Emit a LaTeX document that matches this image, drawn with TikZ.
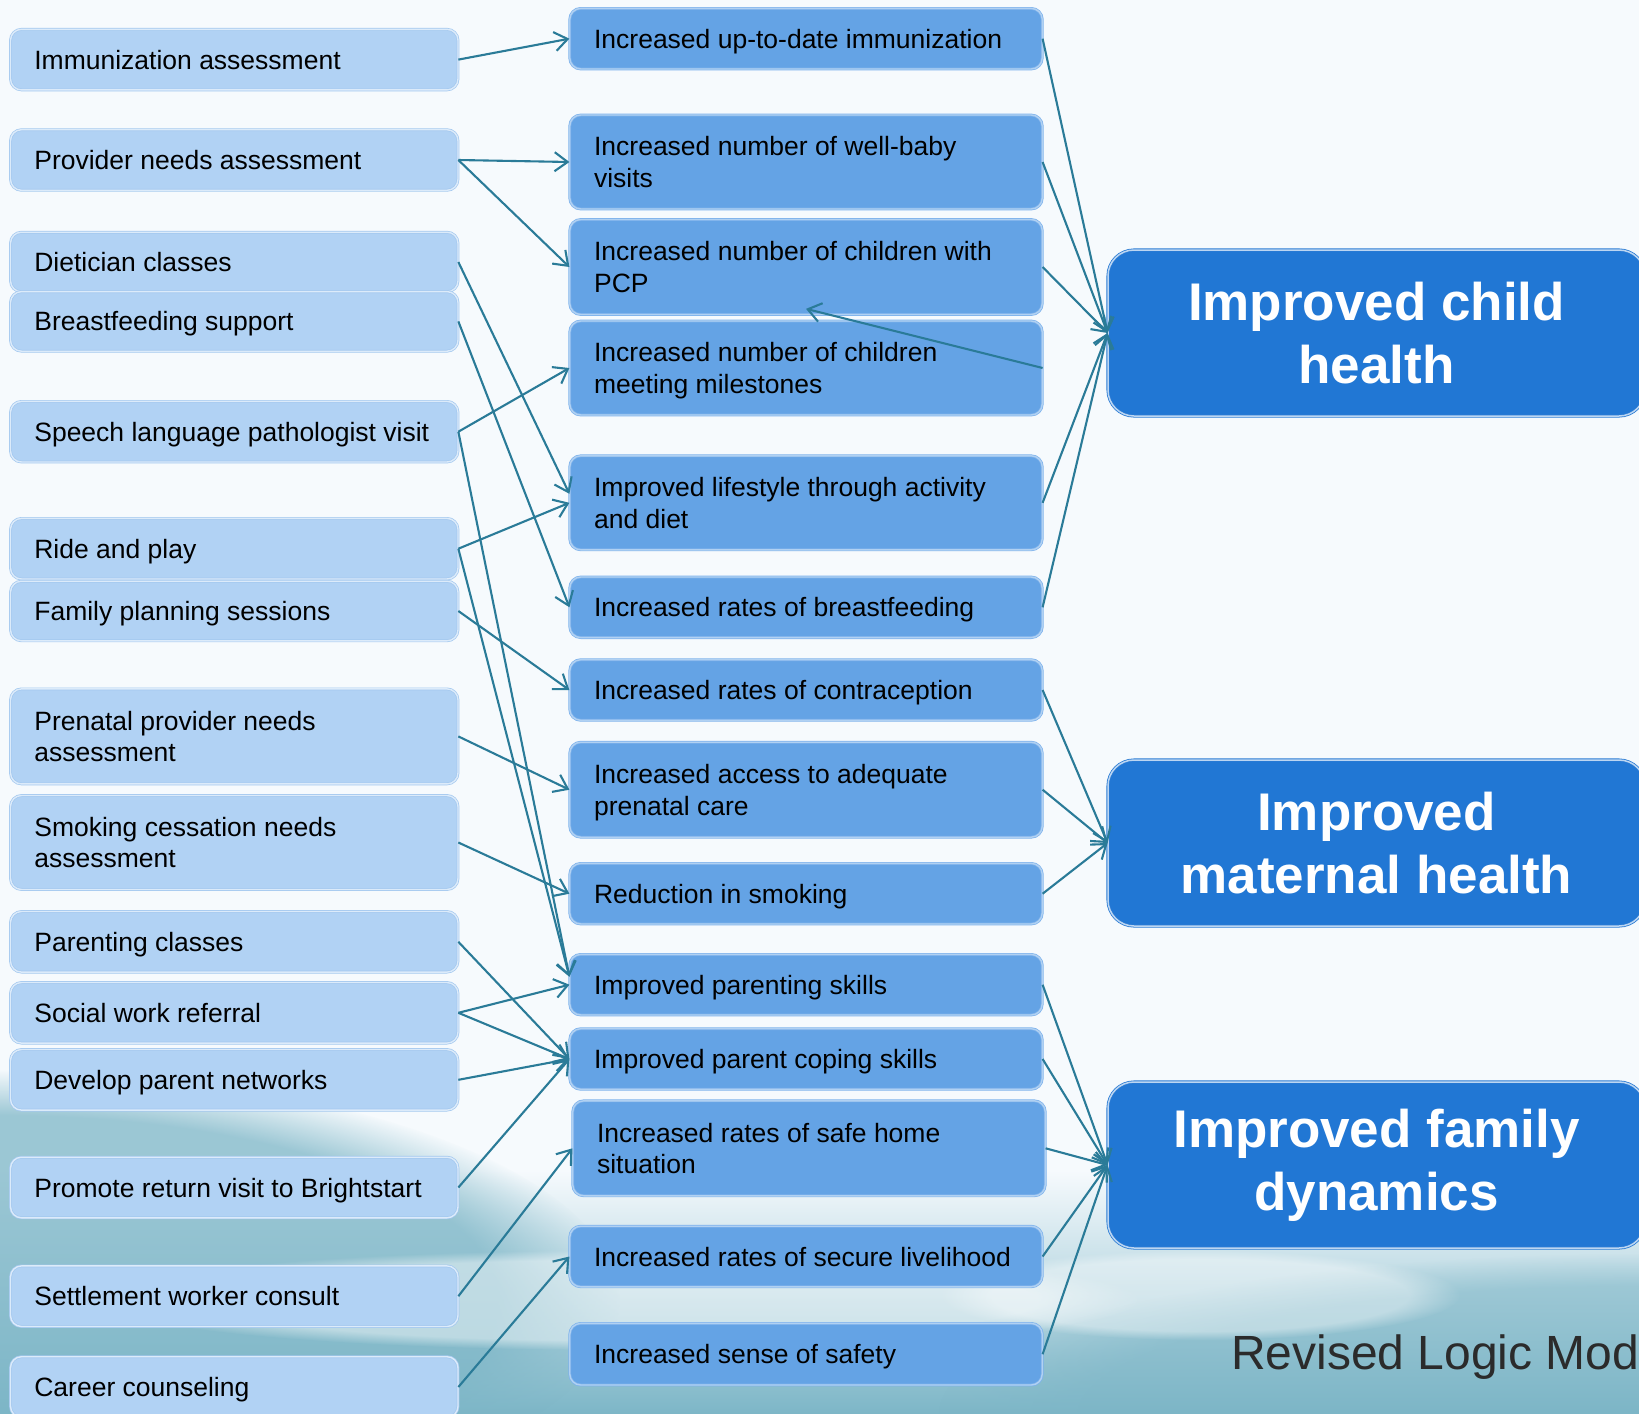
\documentclass[tikz,border=0pt]{standalone}
\usepackage{fontspec}
\setmainfont{Liberation Sans}
\usetikzlibrary{arrows.meta,calc,fadings}
\definecolor{bgtop}{HTML}{F6FAFD}
\definecolor{bgteal}{HTML}{7DB6C7}
\definecolor{lfill}{HTML}{B1D2F4}
\definecolor{lborder}{HTML}{A3C8EF}
\definecolor{mfill}{HTML}{64A3E5}
\definecolor{mborder}{HTML}{7DB2EC}
\definecolor{rfill}{HTML}{2177D4}
\definecolor{rborder}{HTML}{2A7BD4}
\definecolor{arrc}{HTML}{2A7B98}
\definecolor{titlec}{HTML}{2B2B2B}
\newcommand\lbx[4]{%
  \node[lbox, minimum height=#3] (#1) at (234.25,#2) {};
  \node[txt] (#1t) at ([xshift=24pt,yshift=-2.7pt]#1.west) {\rule{0pt}{19.3pt}#4\rule[-5.6pt]{0pt}{0pt}};}
\newcommand\mbx[5]{%
  \node[mbox, minimum height=#4] (#1) at (#2,#3) {};
  \node[txt] (#1t) at ([xshift=24.5pt,yshift=-2.7pt]#1.west) {\rule{0pt}{19.3pt}#5\rule[-5.6pt]{0pt}{0pt}};}
\begin{document}
\begin{tikzpicture}[x=1pt,y=-1pt,
  lbox/.style={draw=lborder, line width=0.7pt, double=white!55!lfill, double distance=1.4pt,
    fill=lfill, rounded corners=11pt, minimum width=447.5pt, inner sep=0pt},
  mbox/.style={draw=mborder, line width=0.7pt, double=white!50!mfill, double distance=1.4pt,
    fill=mfill, rounded corners=11pt, minimum width=472.5pt, inner sep=0pt},
  rbox/.style={draw=rborder, line width=0.8pt, double=white!70!rfill, double distance=1.5pt,
    fill=rfill, rounded corners=26pt, minimum width=537pt, minimum height=166pt, inner sep=0pt,
    text=white, align=center, font=\fontsize{53}{63}\selectfont\bfseries},
  txt/.style={anchor=west, inner sep=0pt, align=left, text=black,
    font=\fontsize{26.5}{31.5}\selectfont},
  arr/.style={draw=arrc, line width=2.1pt, -{Straight Barb[length=13pt,width=19pt]}},
  blob/.style={path fading=circle with fuzzy edge 20 percent}]
\useasboundingbox (0,0) rectangle (1639,1414);
\clip (0,0) rectangle (1639,1414);
% background
\fill[bgtop] (0,0) rectangle (1639,1414);
\shade[top color=bgtop, bottom color=bgteal] (0,1170) rectangle (1639,1414);
\fill[bgteal, opacity=0.75, blob] (0,1300) ellipse [x radius=620, y radius=230];
\fill[bgteal, opacity=0.5, blob] (1639,1414) ellipse [x radius=700, y radius=160];
\fill[white, opacity=0.45, blob] (620,1300) ellipse [x radius=520, y radius=50];
\fill[white, opacity=0.4, blob] (1200,1295) ellipse [x radius=260, y radius=45];
% left column
\lbx{L1}{59.6}{60.6}{Immunization assessment}
\lbx{L2}{160}{60.6}{Provider needs assessment}
\lbx{L3}{262}{59.6}{Dietician classes}
\lbx{L4}{321.4}{59.6}{Breastfeeding support}
\lbx{L5}{431.7}{60.6}{Speech language pathologist visit}
\lbx{L6}{548.7}{60.6}{Ride and play}
\lbx{L7}{611}{59.6}{Family planning sessions}
\lbx{L8}{736.4}{95}{Prenatal provider needs\\assessment}
\lbx{L9}{842.5}{94}{Smoking cessation needs\\assessment}
\lbx{L10}{941.8}{60.6}{Parenting classes}
\lbx{L11}{1012.8}{60.6}{Social work referral}
\lbx{L12}{1079.8}{60.6}{Develop parent networks}
\lbx{L13}{1187.5}{60.6}{Promote return visit to Brightstart}
\lbx{L14}{1296.2}{60.6}{Settlement worker consult}
\lbx{L15}{1387}{60.6}{Career counseling}
% middle column
\mbx{a}{806}{38.7}{60.6}{Increased up-to-date immunization}
\mbx{b}{806}{162}{94}{Increased number of well-baby\\visits}
\mbx{c}{806}{267}{95}{Increased number of children with\\PCP}
\mbx{d}{806}{368}{94}{Increased number of children\\meeting milestones}
\mbx{e}{806}{502.8}{94}{Improved lifestyle through activity\\and diet}
\mbx{f}{806}{607.3}{60.6}{Increased rates of breastfeeding}
\mbx{g}{806}{690}{60.6}{Increased rates of contraception}
\mbx{h}{806}{789.7}{95}{Increased access to adequate\\prenatal care}
\mbx{i}{806}{893.7}{60.6}{Reduction in smoking}
\mbx{j}{806}{984.7}{60.6}{Improved parenting skills}
\mbx{k}{806}{1059}{60.6}{Improved parent coping skills}
\mbx{l}{809}{1148.3}{95}{Increased rates of safe home\\situation}
\mbx{m}{806}{1256.5}{60.6}{Increased rates of secure livelihood}
\mbx{n}{806}{1354.2}{61.6}{Increased sense of safety}
% right column
\node[rbox] (A) at (1376.5,333) {Improved child\\health};
\node[rbox] (B) at (1376.5,843) {Improved\\maternal health};
\node[rbox] (C) at (1376.5,1165) {Improved family\\dynamics};
% title
\node[anchor=base west, inner sep=0pt, text=titlec, font=\fontsize{48}{58}\selectfont] (T) at (1231,1369) {Revised Logic Mod};
% left -> middle
\draw[arr] (L1.east) -- (a.west);
\draw[arr] (L2.east) -- (b.west);
\draw[arr] (L2.east) -- (c.west);
\draw[arr] (L3.east) -- ([yshift=9pt]e.west);
\draw[arr] (L4.east) -- (f.west);
\draw[arr] (L5.east) -- (d.west);
\draw[arr] (L5.east) -- ([yshift=8pt]j.west);
\draw[arr] (L6.east) -- (e.west);
\draw[arr] (L6.east) -- ([yshift=8pt]j.west);
\draw[arr] (L7.east) -- (g.west);
\draw[arr] (L8.east) -- (h.west);
\draw[arr] (L9.east) -- (i.west);
\draw[arr] (L10.east) -- (k.west);
\draw[arr] (L11.east) -- (j.west);
\draw[arr] (L11.east) -- (k.west);
\draw[arr] (L12.east) -- (k.west);
\draw[arr] (L13.east) -- (k.west);
\draw[arr] (L14.east) -- (l.west);
\draw[arr] (L15.east) -- (m.west);
% middle -> middle
\draw[arr] (d.east) -- ([yshift=6pt]c.south);
% middle -> right
\foreach \s in {a,b,c,e,f} \draw[arr] (\s.east) -- (A.west);
\foreach \s in {g,h,i} \draw[arr] (\s.east) -- (B.west);
\foreach \s in {j,k,l,m,n} \draw[arr] (\s.east) -- (C.west);
\end{tikzpicture}
\end{document}
